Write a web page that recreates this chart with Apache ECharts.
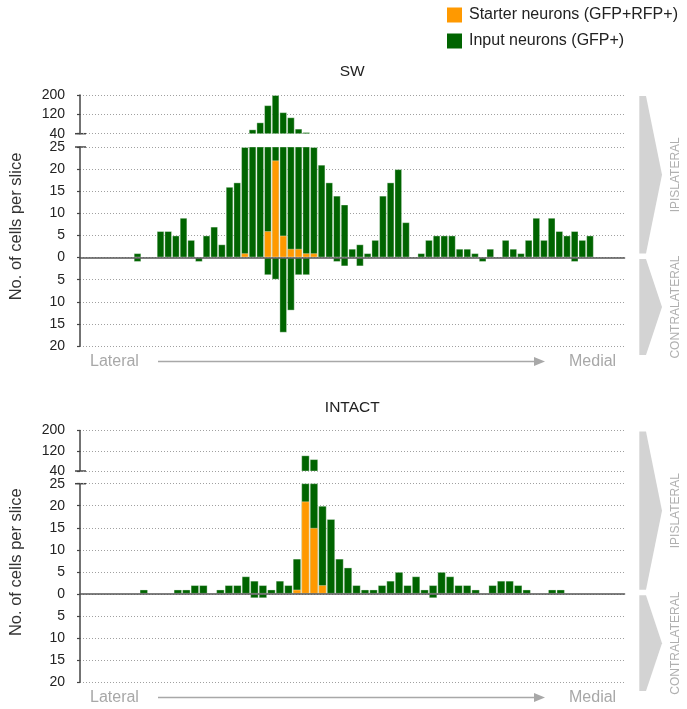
<!DOCTYPE html>
<html>
<head>
<meta charset="utf-8">
<script src="https://cdn.jsdelivr.net/npm/echarts@6/dist/echarts.min.js"></script>
<style>
  html, body { margin: 0; padding: 0; background: #fff; }
  #chart { width: 687px; height: 709px; }
</style>
</head>
<body>
<div id="chart"></div>
<script>
// Cells counted per coronal slice, ordered lateral -> medial (null = no cells).
// Ipsilateral values are totals of input neurons; starter neurons are a subset of them.

// --- SW ---
const swSliceCount = 71;
const swInputIpsi = [
  null, null, null, null, null, null, null, 1, null, null,
  6, 6, 5, 9, 4, null, 5, 7, 3, 16,
  17, 25, 58, 87, 158, 200, 129, 108, 61, 47,
  25, 21, 17, 14, 12, 2, 3, 1, 4, 14,
  17, 20, 8, null, 1, 4, 5, 5, 5, 2,
  2, 1, null, 2, null, 4, 2, 1, 4, 9,
  4, 9, 6, 5, 6, 4, 5, null, null, null,
  null
];
const swStarter = [
  null, null, null, null, null, null, null, null, null, null,
  null, null, null, null, null, null, null, null, null, null,
  null, 1, null, null, 6, 22, 5, 2, 2, 1,
  1, null, null, null, null, null, null, null, null, null,
  null, null, null, null, null, null, null, null, null, null,
  null, null, null, null, null, null, null, null, null, null,
  null, null, null, null, null, null, null, null, null, null,
  null
];
const swInputContra = [
  null, null, null, null, null, null, null, 1, null, null,
  null, null, null, null, null, 1, null, null, null, null,
  null, null, null, null, 4, 5, 17, 12, 4, 4,
  null, null, null, 1, 2, null, 2, null, null, null,
  null, null, null, null, null, null, null, null, null, null,
  null, null, 1, null, null, null, null, null, null, null,
  null, null, null, null, 1, null, null, null, null, null,
  null
];

// --- INTACT ---
const intactSliceCount = 64;
const intactInputIpsi = [
  null, null, null, null, null, null, null, 1, null, null,
  null, 1, 1, 2, 2, null, 1, 2, 2, 4,
  3, 2, 1, 3, 2, 8, 102, 87, 20, 17,
  8, 6, 2, 1, 1, 2, 3, 5, 2, 4,
  1, 2, 5, 4, 2, 2, 1, null, 2, 3,
  3, 2, 1, null, null, 1, 1, null, null, null,
  null, null, null, null
];
const intactStarter = [
  null, null, null, null, null, null, null, null, null, null,
  null, null, null, null, null, null, null, null, null, null,
  null, null, null, null, null, 1, 21, 15, 2, null,
  null, null, null, null, null, null, null, null, null, null,
  null, null, null, null, null, null, null, null, null, null,
  null, null, null, null, null, null, null, null, null, null,
  null, null, null, null
];
const intactInputContra = [
  null, null, null, null, null, null, null, null, null, null,
  null, null, null, null, null, null, null, null, null, null,
  1, 1, null, null, null, null, null, null, null, null,
  null, null, null, null, null, null, null, null, null, null,
  null, 1, null, null, null, null, null, null, null, null,
  null, null, null, null, null, null, null, null, null, null,
  null, null, null, null
];

// Broken y axis: lower segment and upper segment
const lowerTicks = [-20, -15, -10, -5, 0, 5, 10, 15, 20, 25];
const upperTicks = [40, 120, 200];

const INPUT = 'Input neurons (GFP+)';
const STARTER = 'Starter neurons (GFP+RFP+)';
const GREEN = '#006400';
const ORANGE = '#ff9900';
const FONT = "'Liberation Sans', Arial, Helvetica, sans-serif";

// Panel geometry (pixels)
const plotLeft = 80, plotWidth = 544.5;
const panels = [
  { title: 'SW', n: swSliceCount, ipsi: swInputIpsi, starter: swStarter, contra: swInputContra,
    upperTop: 95, upperH: 38.7, lowerTop: 147, lowerH: 199 },
  { title: 'INTACT', n: intactSliceCount, ipsi: intactInputIpsi, starter: intactStarter, contra: intactInputContra,
    upperTop: 430.5, upperH: 40.5, lowerTop: 483.7, lowerH: 198.3 }
];

const grids = [], xAxes = [], yAxes = [], series = [];

const barStyle = (c) => ({ color: c, borderColor: 'rgba(255,255,255,0.35)', borderWidth: 1 });
const splitStyle = { show: true, lineStyle: { color: '#a0a0a0', width: 1, type: [1, 2] } };
const yLabel = { fontSize: 14, color: '#222', fontFamily: FONT, margin: 15, formatter: v => String(Math.abs(v)) };
const yLine = { show: true, lineStyle: { color: '#444', width: 1.5 } };
const yTick = { show: true, length: 3, lineStyle: { color: '#444', width: 1.2 } };

panels.forEach((p, k) => {
  const cats = Array.from({ length: p.n }, (_, i) => String(i + 1));
  const gu = grids.length;
  grids.push({ left: plotLeft, width: plotWidth, top: p.upperTop, height: p.upperH });
  const gl = grids.length;
  grids.push({ left: plotLeft, width: plotWidth, top: p.lowerTop, height: p.lowerH });

  xAxes.push({ type: 'category', gridIndex: gu, data: cats, show: false, boundaryGap: true });
  xAxes.push({ type: 'category', gridIndex: gl, data: cats, boundaryGap: true, z: 5,
    axisLine: { show: true, onZero: true, lineStyle: { color: '#555', width: 1.6 } },
    axisTick: { show: false }, axisLabel: { show: false }, splitLine: { show: false } });

  yAxes.push({ type: 'value', gridIndex: gu, min: upperTicks[0], max: upperTicks[upperTicks.length - 1],
    interval: upperTicks[1] - upperTicks[0],
    axisLine: yLine, axisTick: yTick, axisLabel: yLabel, splitLine: splitStyle });
  yAxes.push({ type: 'value', gridIndex: gl, min: lowerTicks[0], max: lowerTicks[lowerTicks.length - 1],
    interval: lowerTicks[1] - lowerTicks[0],
    axisLine: yLine, axisTick: yTick, axisLabel: yLabel, splitLine: splitStyle });

  const low = upperTicks[0];
  // upper segment: only slices above the break
  series.push({ name: INPUT, type: 'bar', xAxisIndex: gu, yAxisIndex: gu, barWidth: '100%',
    itemStyle: barStyle(GREEN), clip: true,
    data: p.ipsi.map(v => (v != null && v >= low) ? v : '-') });
  // lower segment: ipsilateral inputs (clipped at the break)
  series.push({ name: INPUT, type: 'bar', xAxisIndex: gl, yAxisIndex: gl, barWidth: '100%', barGap: '-100%',
    itemStyle: barStyle(GREEN), clip: true,
    data: p.ipsi.map(v => v == null ? '-' : v) });
  // contralateral inputs, drawn below zero
  series.push({ name: INPUT, type: 'bar', xAxisIndex: gl, yAxisIndex: gl, barWidth: '100%', barGap: '-100%',
    itemStyle: barStyle(GREEN), clip: true,
    data: p.contra.map(v => v == null ? '-' : -v) });
  // starter neurons
  series.push({ name: STARTER, type: 'bar', xAxisIndex: gl, yAxisIndex: gl, barWidth: '100%', barGap: '-100%',
    itemStyle: barStyle(ORANGE), clip: true,
    data: p.starter.map(v => v == null ? '-' : v) });
});

// Decorations: titles, axis name, break marks, lateral->medial arrow, side brackets
const graphics = [];
const grey = '#a8a8a8';
panels.forEach((p, k) => {
  const yBreakHi = p.upperTop + p.upperH;
  const yBreakLo = p.lowerTop;
  const yZero = p.lowerTop + p.lowerH * (lowerTicks[lowerTicks.length - 1] / (lowerTicks[lowerTicks.length - 1] - lowerTicks[0]));
  const yBottom = p.lowerTop + p.lowerH;
  const cx = plotLeft + plotWidth / 2;

  graphics.push({ type: 'text', x: cx, y: p.upperTop - 23, style: { text: p.title, fontSize: 15.5, fill: '#222',
    fontFamily: FONT, align: 'center', verticalAlign: 'middle' } });
  graphics.push({ type: 'text', x: 16, y: (p.upperTop + yBottom) / 2 + 6, rotation: Math.PI / 2,
    style: { text: 'No. of cells per slice', fontSize: 16.5, fill: '#333', fontFamily: FONT,
      align: 'center', verticalAlign: 'middle' } });

  // break marks on the y axis
  [yBreakHi, yBreakLo].forEach(y => graphics.push({ type: 'line',
    shape: { x1: plotLeft - 5, y1: y, x2: plotLeft + 6, y2: y }, style: { stroke: '#444', lineWidth: 1.5 } }));

  // lateral -> medial direction
  const ay = yBottom + 15.5;
  graphics.push({ type: 'text', x: 90, y: ay, style: { text: 'Lateral', fontSize: 16, fill: grey, fontFamily: FONT,
    align: 'left', verticalAlign: 'middle' } });
  graphics.push({ type: 'text', x: 569, y: ay, style: { text: 'Medial', fontSize: 16, fill: grey, fontFamily: FONT,
    align: 'left', verticalAlign: 'middle' } });
  graphics.push({ type: 'line', shape: { x1: 158, y1: ay, x2: 537, y2: ay }, style: { stroke: grey, lineWidth: 1.5 } });
  graphics.push({ type: 'polygon', shape: { points: [[534, ay - 4.5], [545, ay], [534, ay + 4.5]] }, style: { fill: grey } });

  // side brackets: ipsilateral (above zero) and contralateral (below zero)
  const bx0 = 639.3, bx1 = 646, btip = 662;
  const uTop = p.upperTop + 1, uBot = yZero - 4;
  const lTop = yZero + 1.5, lBot = yBottom + 9;
  graphics.push({ type: 'polygon', shape: { points: [[bx0, uTop], [bx1, uTop], [btip, (uTop + uBot) / 2], [bx1, uBot], [bx0, uBot]] },
    style: { fill: '#d3d3d3' } });
  graphics.push({ type: 'polygon', shape: { points: [[bx0, lTop], [bx1, lTop], [btip, (lTop + lBot) / 2], [bx1, lBot], [bx0, lBot]] },
    style: { fill: '#d3d3d3' } });
  graphics.push({ type: 'text', x: 676, y: (uTop + uBot) / 2, rotation: Math.PI / 2,
    style: { text: 'IPISLATERAL', fontSize: 12, fill: '#b0b0b0', fontFamily: FONT, align: 'center', verticalAlign: 'middle' } });
  graphics.push({ type: 'text', x: 676, y: (lTop + lBot) / 2, rotation: Math.PI / 2,
    style: { text: 'CONTRALATERAL', fontSize: 12, fill: '#b0b0b0', fontFamily: FONT, align: 'center', verticalAlign: 'middle' } });
});

const chart = echarts.init(document.getElementById('chart'), null, { renderer: 'canvas' });
chart.setOption({
  animation: false,
  backgroundColor: '#fff',
  textStyle: { fontFamily: FONT },
  legend: {
    data: [STARTER, INPUT], orient: 'vertical', left: 442, top: 2,
    itemWidth: 15, itemHeight: 15, itemGap: 10, icon: 'rect',
    itemStyle: { borderWidth: 0 },
    textStyle: { fontSize: 16, color: '#222', fontFamily: FONT, padding: [0, 0, 0, 2] }
  },
  grid: grids,
  xAxis: xAxes,
  yAxis: yAxes,
  series: series,
  graphic: graphics
});
</script>
</body>
</html>
